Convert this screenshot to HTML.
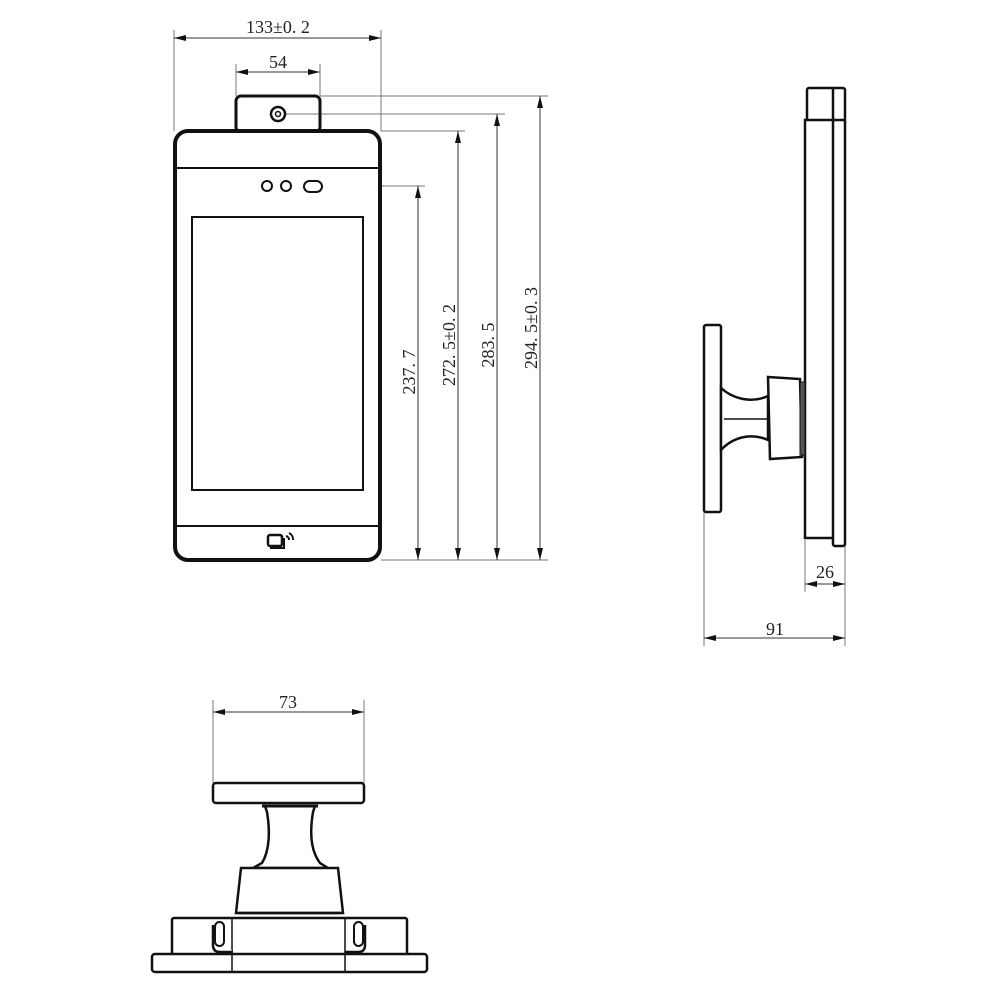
<!DOCTYPE html>
<html><head><meta charset="utf-8"><style>html,body{margin:0;padding:0;background:#fff}svg{display:block}text{font-family:"Liberation Serif",serif;font-size:18px;fill:#222}</style></head>
<body>
<svg width="1000" height="1000" viewBox="0 0 1000 1000" xmlns="http://www.w3.org/2000/svg">
<defs>
<marker id="a" viewBox="0 0 12 6" refX="12" refY="3" markerWidth="12" markerHeight="6" orient="auto-start-reverse" markerUnits="userSpaceOnUse"><path d="M0,0 L12,3 L0,6 z" fill="#111"/></marker>
</defs>
<g stroke="#777" stroke-width="1" fill="none">
<line x1="174" y1="30" x2="174" y2="131"/>
<line x1="381" y1="30" x2="381" y2="131"/>
<line x1="236" y1="64" x2="236" y2="96"/>
<line x1="320" y1="64" x2="320" y2="96"/>
<line x1="320" y1="96" x2="548" y2="96"/>
<line x1="285" y1="114" x2="505" y2="114"/>
<line x1="381" y1="131" x2="465" y2="131"/>
<line x1="322" y1="186" x2="425" y2="186"/>
<line x1="381" y1="560" x2="548" y2="560"/>
<line x1="805" y1="540" x2="805" y2="592"/>
<line x1="845" y1="546" x2="845" y2="646"/>
<line x1="704" y1="512" x2="704" y2="646"/>
<line x1="213" y1="700" x2="213" y2="785"/>
<line x1="364" y1="700" x2="364" y2="785"/>
</g>
<g stroke="#333" stroke-width="1" fill="none" marker-start="url(#a)" marker-end="url(#a)">
<line x1="174" y1="38" x2="381" y2="38"/>
<line x1="236" y1="72" x2="320" y2="72"/>
<line x1="418" y1="186" x2="418" y2="560"/>
<line x1="458" y1="131" x2="458" y2="560"/>
<line x1="497" y1="114" x2="497" y2="560"/>
<line x1="540" y1="96" x2="540" y2="560"/>
<line x1="805" y1="584" x2="845" y2="584"/>
<line x1="704" y1="638" x2="845" y2="638"/>
<line x1="213" y1="712" x2="364" y2="712"/>
</g>
<text x="278" y="33" text-anchor="middle">133±0. 2</text>
<text x="278" y="68" text-anchor="middle">54</text>
<text transform="translate(415,372) rotate(-90)" text-anchor="middle">237. 7</text>
<text transform="translate(455,345) rotate(-90)" text-anchor="middle">272. 5±0. 2</text>
<text transform="translate(494,345) rotate(-90)" text-anchor="middle">283. 5</text>
<text transform="translate(537,328) rotate(-90)" text-anchor="middle">294. 5±0. 3</text>
<text x="825" y="578" text-anchor="middle">26</text>
<text x="775" y="635" text-anchor="middle">91</text>
<text x="288" y="708" text-anchor="middle">73</text>

<g stroke="#111" fill="none">
<rect x="236" y="96" width="84" height="36" rx="5" stroke-width="3"/>
<rect x="175" y="131" width="205" height="429" rx="13" stroke-width="4" fill="#fff"/>
<circle cx="278" cy="114" r="7" stroke-width="2.5"/>
<circle cx="278" cy="114" r="2.5" stroke-width="1.5"/>
<line x1="177" y1="168" x2="378" y2="168" stroke-width="2"/>
<circle cx="267" cy="186" r="5" stroke-width="2"/>
<circle cx="286" cy="186" r="5" stroke-width="2"/>
<rect x="304" y="181" width="18" height="11" rx="5.5" stroke-width="2"/>
<rect x="192" y="217" width="171" height="273" stroke-width="2"/>
<line x1="177" y1="526" x2="378" y2="526" stroke-width="2"/>
<rect x="268" y="535" width="14" height="11" rx="2" stroke-width="2.5"/>
<path d="M270,548 H284 V538" stroke-width="2"/>
<path d="M286,536 a4,4 0 0 1 3,4 M289,533 a7,7 0 0 1 4,7" stroke-width="2"/>
</g>

<g stroke="#111" fill="#fff" stroke-width="2.5">
<rect x="807" y="88" width="38" height="36" rx="2"/>
<line x1="833" y1="88" x2="833" y2="124"/>
<rect x="805" y="120" width="29" height="418"/>
<rect x="833" y="120" width="12" height="426" rx="2"/>
<rect x="704" y="325" width="17" height="187" rx="2"/>
<path d="M721,388 C732,398 750,404 768,396 L768,440 C750,432 732,438 721,450 Z"/>
<line x1="724" y1="419" x2="768" y2="419" stroke-width="1.5"/>
<path d="M768,377 L800,379 L802,457 L770,459 Z"/>
<rect x="800" y="382" width="5" height="73" fill="#555" stroke-width="1"/>
</g>

<g stroke="#111" fill="#fff" stroke-width="2.5">
<rect x="213" y="783" width="151" height="20" rx="3"/>
<path d="M265,806 L315,806 L313,812 C310,830 310,850 320,863 L328,868 L253,868 L262,863 C270,850 270,830 267,812 Z"/>
<line x1="262" y1="806" x2="318" y2="806" stroke-width="3"/>
<path d="M241,868 L338,868 L343,913 L236,913 Z"/>
<line x1="238" y1="913" x2="341" y2="913"/>
<rect x="172" y="918" width="235" height="37" rx="2"/>
<rect x="152" y="954" width="275" height="18" rx="3"/>
<line x1="232" y1="918" x2="232" y2="972" stroke-width="1.5"/>
<line x1="345" y1="918" x2="345" y2="972" stroke-width="1.5"/>
<path d="M213,925 L213,945 Q213,952 220,952 L233,952"/>
<path d="M365,925 L365,945 Q365,952 358,952 L345,952"/>
<rect x="215" y="922" width="9" height="24" rx="4.5" stroke-width="2"/>
<rect x="354" y="922" width="9" height="24" rx="4.5" stroke-width="2"/>
</g>
</svg>
</body></html>
